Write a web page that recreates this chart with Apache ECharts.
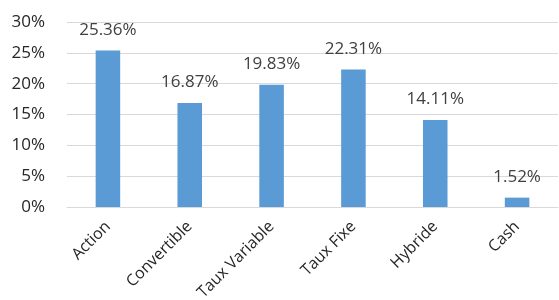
<!DOCTYPE html>
<html><head><meta charset="utf-8">
<script src="https://cdn.jsdelivr.net/npm/echarts@6/dist/echarts.min.js"></script>
<style>html,body{margin:0;padding:0;background:#fff}#c{width:559px;height:300px}</style>
</head><body><div id="c"></div>
<script>
var categories = ["Action","Convertible","Taux Variable","Taux Fixe","Hybride","Cash"];
var values = [25.36,16.87,19.83,22.31,14.11,1.52];
var yTicks = [0,5,10,15,20,25,30];

var chart = echarts.init(document.getElementById('c'), null, {renderer:'canvas'});
chart.setOption({
  animation:false,
  grid:{left:67,right:1,top:22,bottom:93,containLabel:false,outerBoundsMode:'none'},
  xAxis:{type:'category',data:categories,
    axisLine:{lineStyle:{color:'#d9d9d9',width:1}},
    axisTick:{show:false},
    axisLabel:{rotate:45,interval:0,margin:17,fontFamily:'Open Sans',fontSize:16,color:'#262626'}},
  yAxis:{type:'value',min:yTicks[0],max:yTicks[yTicks.length-1],interval:5,
    axisLine:{show:false},axisTick:{show:false},
    splitLine:{lineStyle:{color:'#d9d9d9',width:1}},
    axisLabel:{formatter:function(v){return v+'%';},margin:22,fontFamily:'Open Sans',fontSize:17,color:'#262626'}},
  series:[{type:'bar',data:values,barWidth:'30%',
    itemStyle:{color:'#5b9bd5'},
    label:{show:true,position:'top',distance:12,formatter:function(p){return p.value.toFixed(2)+'%';},
      fontFamily:'Open Sans',fontSize:17,color:'#404040'}}]
});
</script></body></html>
